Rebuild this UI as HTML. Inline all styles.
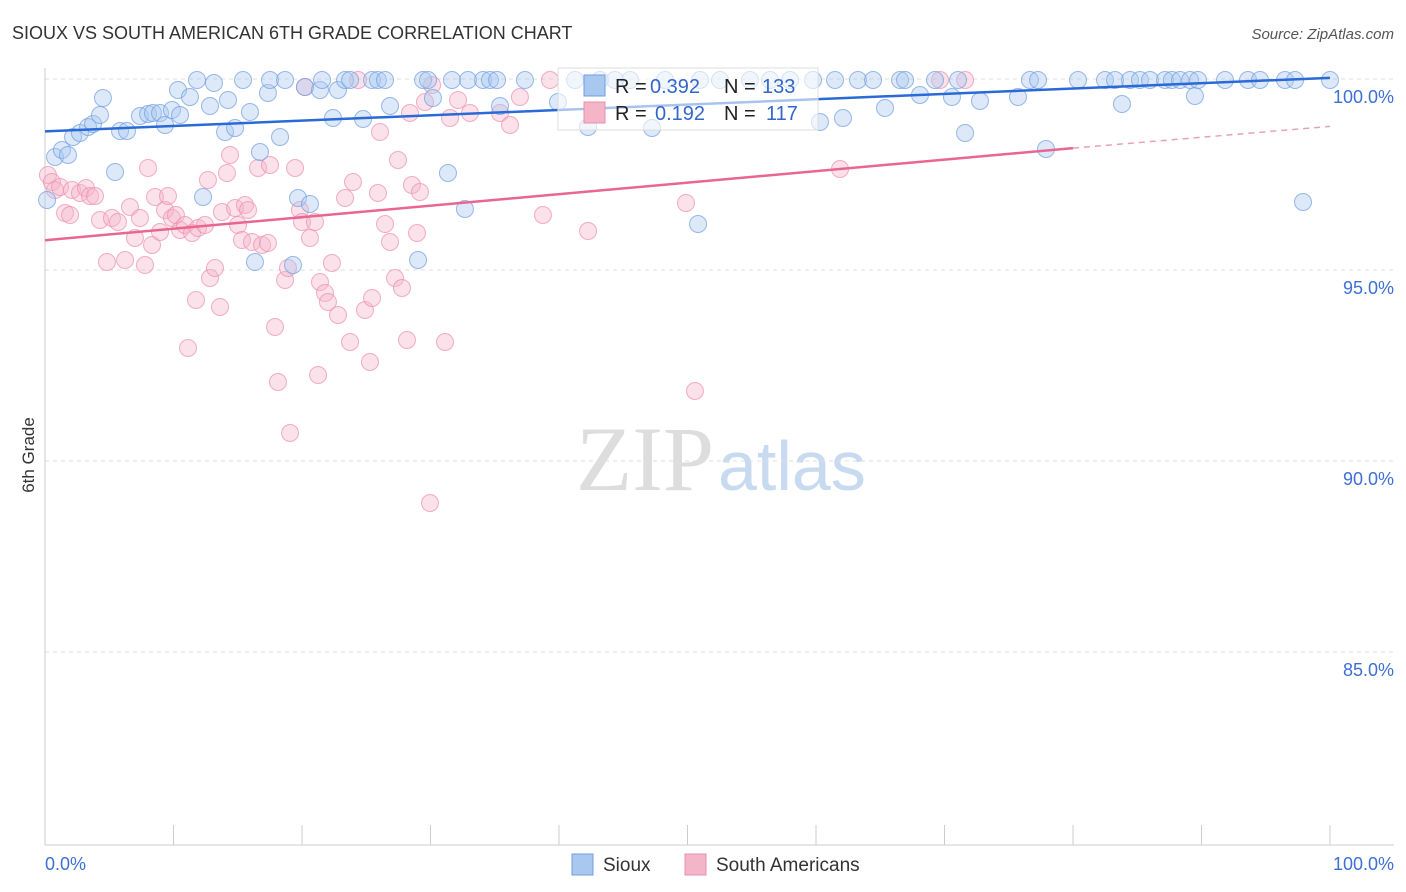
<!DOCTYPE html>
<html><head><meta charset="utf-8"><style>
body{margin:0;background:#fff;font-family:"Liberation Sans",sans-serif;}
</style></head><body>
<svg id="c" width="1406" height="892" xmlns="http://www.w3.org/2000/svg" style="display:block">
<text x="12" y="39" font-size="18" fill="#333">SIOUX VS SOUTH AMERICAN 6TH GRADE CORRELATION CHART</text>
<text x="1394" y="39" font-size="15" fill="#555" font-style="italic" text-anchor="end">Source: ZipAtlas.com</text>
<text x="714" y="490" font-size="92" fill="#ddd" font-family="Liberation Serif" text-anchor="end">ZIP</text>
<text x="718" y="490" font-size="70" fill="#c8daf0">atlas</text>
<text x="34" y="455" font-size="17" fill="#333" transform="rotate(-90 34 455)" text-anchor="middle">6th Grade</text>
<g id="grid"></g><g id="pts"></g><g id="trend"></g>
<g>
<rect x="558" y="68" width="260" height="62" fill="#fff" fill-opacity="0.6" stroke="#ddd"/>
<rect x="584" y="75" width="21" height="21" fill="#a9c8f0" stroke="#6f9de0"/>
<rect x="584" y="102" width="21" height="21" fill="#f5b5c8" stroke="#e890ac"/>
<text x="615" y="93" font-size="20" fill="#222">R =</text>
<text x="650" y="93" font-size="20" fill="#3366cc">0.392</text>
<text x="724" y="93" font-size="20" fill="#222">N =</text>
<text x="762" y="93" font-size="20" fill="#3366cc">133</text>
<text x="615" y="120" font-size="20" fill="#222">R =</text>
<text x="655" y="120" font-size="20" fill="#3366cc">0.192</text>
<text x="724" y="120" font-size="20" fill="#222">N =</text>
<text x="766" y="120" font-size="20" fill="#3366cc">117</text>
</g>
<g>
<rect x="572" y="854" width="21" height="21" fill="#a9c8f0" stroke="#6f9de0"/>
<text x="603" y="871" font-size="19" fill="#333">Sioux</text>
<rect x="685" y="854" width="21" height="21" fill="#f5b5c8" stroke="#e890ac"/>
<text x="716" y="871" font-size="19" fill="#333">South Americans</text>
</g>
</svg>
<script>
const yTicks=[100,95,90,85];
const yTickLabels=["100.0%","95.0%","90.0%","85.0%"];
const xTickLabels=["0.0%","100.0%"];
const siouxPx=[[47,200],[55,157],[62,150],[68,155],[73,137],[80,133],[88,127],[93,124],[103,98],[100,115],[115,172],[120,131],[127,131],[140,116],[148,114],[153,113],[160,113],[165,125],[172,110],[178,90],[180,115],[190,97],[197,80],[203,197],[210,106],[214,83],[225,132],[228,100],[235,128],[243,80],[250,112],[255,262],[260,152],[268,93],[270,80],[280,137],[285,80],[293,265],[298,198],[305,87],[310,204],[320,90],[322,80],[333,118],[338,90],[345,80],[350,80],[363,119],[372,80],[378,80],[385,80],[390,106],[418,260],[423,80],[428,80],[433,98],[448,173],[452,80],[465,209],[468,80],[483,80],[490,80],[497,80],[500,106],[525,80],[558,102],[575,80],[588,127],[600,80],[615,80],[630,80],[652,128],[665,80],[698,224],[700,80],[720,80],[750,80],[770,80],[790,80],[813,80],[820,122],[835,80],[843,118],[858,80],[873,80],[885,108],[900,80],[905,80],[920,95],[935,80],[952,97],[958,80],[965,133],[980,101],[1018,97],[1030,80],[1038,80],[1046,149],[1078,80],[1105,80],[1115,80],[1122,104],[1130,80],[1140,80],[1150,80],[1165,80],[1172,80],[1180,80],[1190,80],[1195,96],[1198,80],[1225,80],[1248,80],[1260,80],[1285,80],[1295,80],[1303,202],[1330,80]];
const southPx=[[48,175],[52,182],[55,190],[60,187],[65,213],[70,215],[72,190],[80,193],[86,188],[90,196],[95,196],[100,220],[107,262],[112,218],[118,222],[125,260],[130,207],[135,238],[140,218],[145,265],[148,168],[152,245],[155,197],[160,232],[165,210],[168,196],[172,218],[176,215],[180,230],[185,225],[188,348],[192,233],[196,300],[198,228],[205,225],[208,180],[210,278],[215,268],[220,307],[222,212],[227,173],[230,155],[235,208],[238,225],[242,240],[245,205],[248,210],[252,242],[258,168],[262,245],[268,243],[270,165],[275,327],[278,382],[285,280],[288,268],[290,433],[295,168],[300,210],[302,222],[305,87],[310,238],[315,222],[318,375],[320,282],[325,293],[328,302],[332,263],[338,315],[345,198],[350,342],[353,182],[358,80],[365,310],[370,362],[372,298],[378,193],[380,132],[385,224],[390,242],[395,278],[398,160],[402,288],[407,340],[410,113],[412,185],[417,233],[420,192],[425,102],[430,503],[432,85],[445,342],[450,118],[458,100],[470,113],[500,113],[510,125],[520,97],[543,215],[550,80],[588,231],[594,112],[686,203],[695,391],[840,169],[940,80],[965,80]];
const siouxX=siouxPx.map(p=>+((p[0]-45)/12.85).toFixed(2));
const siouxY=siouxPx.map(p=>+(100-(p[1]-79)/38.2).toFixed(3));
const southX=southPx.map(p=>+((p[0]-45)/12.85).toFixed(2));
const southY=southPx.map(p=>+(100-(p[1]-79)/38.2).toFixed(3));
const siouxTrend=[[0,98.63],[100,100.03]];
const southTrend=[[0,95.78],[80,98.19],[100,98.76]];
const X=v=>45+v*12.85, Y=v=>79+(100-v)*38.2;
const NS="http://www.w3.org/2000/svg";
function mk(t,a,p){const e=document.createElementNS(NS,t);for(const k in a)e.setAttribute(k,a[k]);p.appendChild(e);return e;}
const g=document.getElementById('grid');
yTicks.forEach((t,i)=>{
 const l=mk('line',{x1:45,x2:1394,y1:Y(t),y2:Y(t),stroke:'#ddd','stroke-dasharray':'4 4'},g);
 
 
 const tx=mk('text',{x:1394,y:Y(t)+24,'font-size':18,fill:'#3d6fd6','text-anchor':'end'},g);
 tx.textContent=yTickLabels[i];
 
 
});
const ax=mk('line',{x1:45,x2:1394,y1:845,y2:845,stroke:'#ccc'},g);


const ay=mk('line',{x1:45,x2:45,y1:68,y2:845,stroke:'#ccc'},g);


for(let i=0;i<=10;i++){const tk=mk('line',{x1:X(i*10),x2:X(i*10),y1:825,y2:845,stroke:'#ccc'},g);
 
 }
const xl0=mk('text',{x:45,y:870,'font-size':18,fill:'#3d6fd6'},g);xl0.textContent=xTickLabels[0];


const xl1=mk('text',{x:1394,y:870,'font-size':18,fill:'#3d6fd6','text-anchor':'end'},g);xl1.textContent=xTickLabels[1];


const pg=document.getElementById('pts');
southX.forEach((x,i)=>{const c=mk('circle',{cx:X(x),cy:Y(southY[i]),r:8.5,fill:'#f5b5c8','fill-opacity':0.4,stroke:'#ec8fae','stroke-opacity':0.7},pg);
 
 });
siouxX.forEach((x,i)=>{const c=mk('circle',{cx:X(x),cy:Y(siouxY[i]),r:8.5,fill:'#a9c8f0','fill-opacity':0.4,stroke:'#6f9de0','stroke-opacity':0.7},pg);
 
 });
const tg=document.getElementById('trend');
const t1=mk('line',{x1:X(siouxTrend[0][0]),y1:Y(siouxTrend[0][1]),x2:X(siouxTrend[1][0]),y2:Y(siouxTrend[1][1]),stroke:'#2a6ad6','stroke-width':2.5},tg);


const t2=mk('line',{x1:X(southTrend[0][0]),y1:Y(southTrend[0][1]),x2:X(southTrend[1][0]),y2:Y(southTrend[1][1]),stroke:'#e8668f','stroke-width':2.5},tg);


const t3=mk('line',{x1:X(southTrend[1][0]),y1:Y(southTrend[1][1]),x2:X(southTrend[2][0]),y2:Y(southTrend[2][1]),stroke:'#e8a0b8','stroke-width':1.5,'stroke-dasharray':'6 5'},tg);


</script>
</body></html>
